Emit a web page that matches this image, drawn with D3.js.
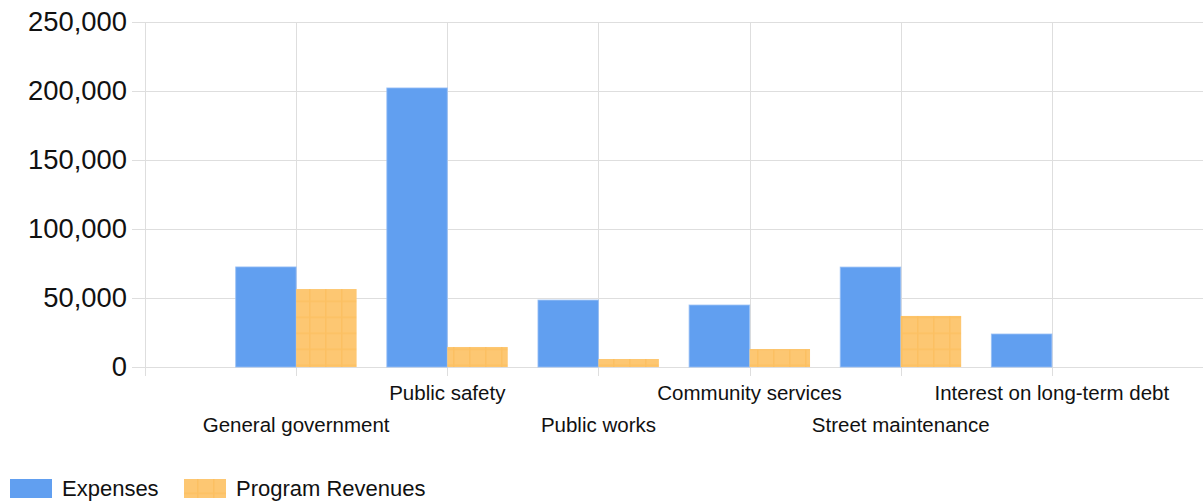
<!DOCTYPE html>
<html>
<head>
<meta charset="utf-8">
<script src="https://cdn.jsdelivr.net/npm/d3@7"></script>
<style>
  html, body { margin: 0; padding: 0; background: #fff; }
  svg { display: block; font-family: "Liberation Sans", Arial, sans-serif; }
</style>
</head>
<body>
<svg id="chart" width="1203" height="501"></svg>
<script>
const categories = ["General government", "Public safety", "Public works", "Community services", "Street maintenance", "Interest on long-term debt"];
const expenses = [72500, 202200, 48500, 44900, 72400, 23900];
const programRevenues = [56500, 14500, 5800, 13000, 37000, 0];
const seriesNames = ["Expenses", "Program Revenues"];
const yTicks = [0, 50000, 100000, 150000, 200000, 250000];

(function () {
const svg = d3.select("#chart");
const pLeft = 145, pRight = 1203, pTop = 22, pBottom = 367;

const x = d3.scalePoint().domain(categories).range([pLeft, pRight]).padding(1);
const step = x.step();
const y = d3.scaleLinear().domain([0, 250000]).range([pBottom, pTop]);
const barW = step * 0.4;

// pattern for orange bars
const defs = svg.append("defs");
const pat = defs.append("pattern").attr("id", "grid").attr("patternUnits", "userSpaceOnUse")
  .attr("width", 16).attr("height", 16).attr("x", 5).attr("y", 12.5);
pat.append("rect").attr("width", 16).attr("height", 16).attr("fill", "#fdc772");
pat.append("rect").attr("x", 0).attr("y", 0).attr("width", 1.5).attr("height", 16).attr("fill", "#fcc062");
pat.append("rect").attr("x", 0).attr("y", 0).attr("width", 16).attr("height", 1.5).attr("fill", "#fcc062");

// horizontal gridlines
const yAxis = d3.axisLeft(y).tickValues(yTicks).tickSize(-(pRight - pLeft)).tickSizeOuter(0).tickPadding(5)
  .tickFormat(d3.format(","));
const gy = svg.append("g").attr("transform", `translate(${pLeft},0)`).call(yAxis);
gy.select(".domain").remove();
gy.selectAll(".tick line").attr("stroke", "#dedede").attr("x1", -13).attr("shape-rendering", "crispEdges");
gy.selectAll(".tick text").attr("font-size", 27.4).attr("fill", "#111").attr("x", -18)
  .attr("font-family", "'Liberation Sans', Arial, sans-serif");

// vertical gridlines: axis line + category centers
const vLines = [pLeft].concat(categories.map(c => x(c)));
svg.append("g").selectAll("line").data(vLines).join("line")
  .attr("x1", d => Math.round(d) + 0.5).attr("x2", d => Math.round(d) + 0.5)
  .attr("y1", pTop).attr("y2", pBottom + 9)
  .attr("stroke", "#dedede").attr("stroke-width", 1);

// bars
const gBars = svg.append("g");
gBars.selectAll("rect.exp").data(categories).join("rect").attr("class", "exp")
  .attr("x", d => x(d) - barW).attr("width", barW)
  .attr("y", (d, i) => y(expenses[i])).attr("height", (d, i) => pBottom - y(expenses[i]))
  .attr("fill", "#619ff0").attr("stroke", "rgba(150,190,245,0.8)").attr("stroke-width", 1);
gBars.selectAll("rect.rev").data(categories).join("rect").attr("class", "rev")
  .attr("x", d => x(d)).attr("width", barW)
  .attr("y", (d, i) => y(programRevenues[i])).attr("height", (d, i) => pBottom - y(programRevenues[i]))
  .attr("fill", "url(#grid)");

// x labels staggered
svg.append("g").selectAll("text").data(categories).join("text")
  .attr("x", d => x(d))
  .attr("y", (d, i) => i % 2 === 0 ? 432 : 400)
  .attr("text-anchor", "middle").attr("font-size", 20.5).attr("fill", "#111")
  .text(d => d);

// legend
const legend = svg.append("g");
const lx = [10, 184];
const fills = ["#619ff0", "url(#grid)"];
seriesNames.forEach((n, i) => {
  legend.append("rect").attr("x", lx[i]).attr("y", 479).attr("width", 42).attr("height", 19).attr("fill", fills[i]);
  legend.append("text").attr("x", lx[i] + 52).attr("y", 496).attr("font-size", 22).attr("fill", "#111").text(n);
});
})();
</script>
</body>
</html>
